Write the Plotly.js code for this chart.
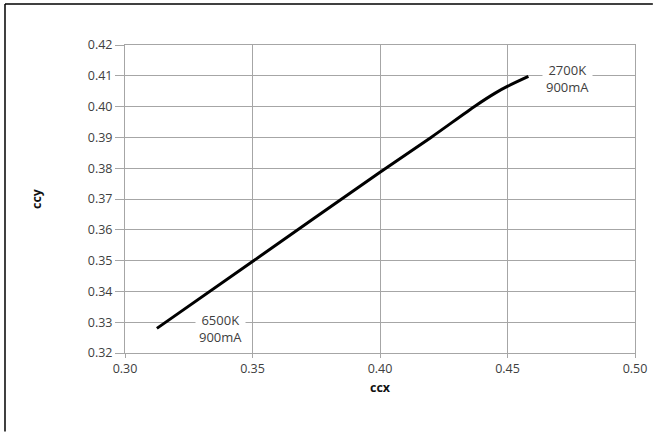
<!DOCTYPE html>
<html>
<head>
<meta charset="utf-8">
<script src="https://cdn.plot.ly/plotly-3.0.1.min.js"></script>
<style>
html,body{margin:0;padding:0;background:#fff;overflow:hidden;}
#chart{width:655px;height:433px;}
</style>
</head>
<body>
<div id="chart"></div>
<script>
const ccx = [0.3125, 0.350, 0.400, 0.420, 0.4375, 0.445, 0.4503, 0.4582];
const ccy = [0.328, 0.3497, 0.3787, 0.390, 0.4003, 0.4043, 0.4067, 0.4098];
const xTicks = [0.30, 0.35, 0.40, 0.45, 0.50];
const yTicks = [0.32, 0.33, 0.34, 0.35, 0.36, 0.37, 0.38, 0.39, 0.40, 0.41, 0.42];
const labels = [
  {x: 0.3376, y: 0.3278, text: "6500K<br>900mA"},
  {x: 0.4735, y: 0.4091, text: "2700K<br>900mA"}
];

const FONT = "'Open Sans', Lato, sans-serif";
const GRID = "#a6a6a6";

const trace = {
  x: ccx, y: ccy, type: "scatter", mode: "lines",
  line: {color: "#000", width: 3, shape: "spline", smoothing: 0.8},
  hoverinfo: "skip", showlegend: false
};

const layout = {
  width: 655, height: 433,
  margin: {l: 125, r: 20, t: 45, b: 80},
  paper_bgcolor: "#fff", plot_bgcolor: "#fff",
  font: {family: FONT, size: 12, color: "#404040"},
  xaxis: {
    range: [0.30, 0.50], tickvals: xTicks, ticktext: xTicks.map(v => v.toFixed(2)),
    showgrid: true, gridcolor: GRID, gridwidth: 1,
    showline: true, mirror: true, linecolor: GRID, linewidth: 1,
    ticks: "outside", ticklen: 4, tickcolor: GRID, zeroline: false,
    tickfont: {family: FONT, size: 12.5, color: "#404040"},
    title: {text: "ccx", font: {family: FONT, size: 12.5, color: "#111", weight: "bold"}, standoff: 7}
  },
  yaxis: {
    range: [0.32, 0.42], tickvals: yTicks, ticktext: yTicks.map(v => v.toFixed(2)),
    showgrid: true, gridcolor: GRID, gridwidth: 1,
    showline: true, mirror: true, linecolor: GRID, linewidth: 1,
    ticks: "outside", ticklen: 9, tickcolor: GRID, zeroline: false,
    tickfont: {family: FONT, size: 12.5, color: "#404040"},
    title: {text: "ccy", font: {family: FONT, size: 12.5, color: "#111", weight: "bold"}, standoff: 43}
  },
  annotations: labels.map(a => ({
    x: a.x, y: a.y, xref: "x", yref: "y", text: a.text, showarrow: false,
    bgcolor: "#fff", font: {family: FONT, size: 13, color: "#404040"},
    align: "center", borderpad: 3
  })),
  shapes: [
    {type: "line", xref: "paper", yref: "paper", x0: -0.2353, x1: 1.035, y0: 1.133, y1: 1.133,
     line: {color: "#000", width: 1.5}, layer: "above"},
    {type: "line", xref: "paper", yref: "paper", x0: -0.2353, x1: -0.2353, y0: -0.255, y1: 1.133,
     line: {color: "#000", width: 1.5}, layer: "above"}
  ]
};

Plotly.newPlot("chart", [trace], layout, {displayModeBar: false, staticPlot: true});
</script>
</body>
</html>
